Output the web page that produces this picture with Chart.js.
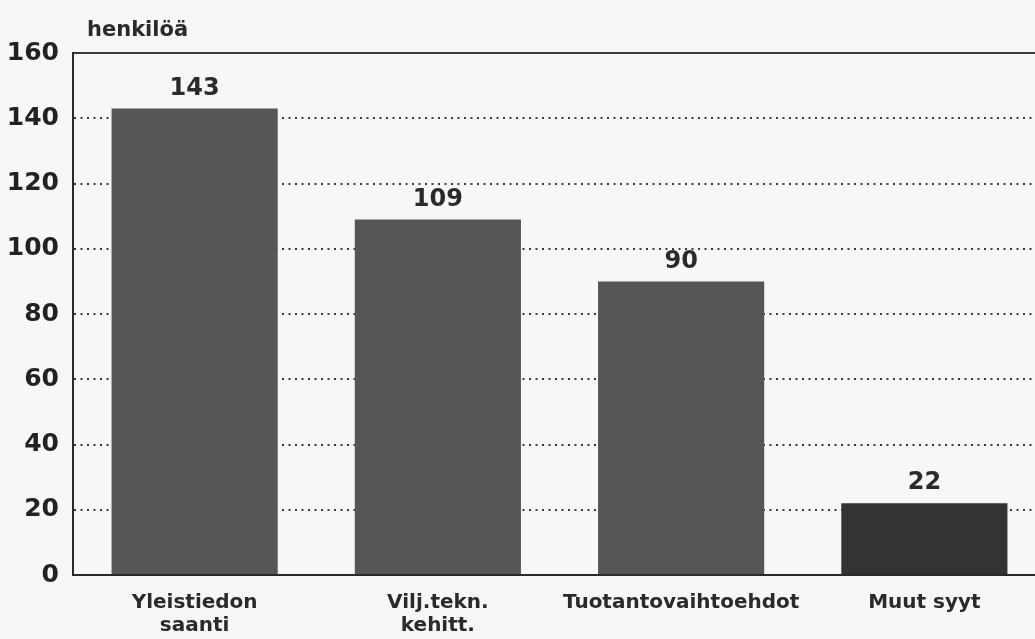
<!DOCTYPE html>
<html>
<head>
<meta charset="utf-8">
<script src="https://cdn.jsdelivr.net/npm/chart.js@4"></script>
<style>
  html, body { margin: 0; padding: 0; background: #f7f7f5; overflow: hidden; }
  #wrap { width: 1050px; height: 639px; }
</style>
</head>
<body>
<div id="wrap"><canvas id="chart" width="1050" height="639"></canvas></div>
<script>
const categories = [['Yleistiedon', 'saanti'], ['Vilj.tekn.', 'kehitt.'], 'Tuotantovaihtoehdot', 'Muut syyt'];
const values = [143, 109, 90, 22];
const barColors = ['#565656', '#565656', '#555555', '#333333'];
const yTicks = [0, 20, 40, 60, 80, 100, 120, 140, 160];
const yTitle = 'henkilöä';

const fontFamily = '"DejaVu Sans", "Liberation Sans", Arial, sans-serif';

// values above the bars + unit label above the axis
const labelPlugin = {
    id: 'labels',
    afterDatasetsDraw(chart) {
        const ctx = chart.ctx;
        const meta = chart.getDatasetMeta(0);
        ctx.save();
        ctx.fillStyle = '#2a2a2a';
        ctx.font = 'bold 24px ' + fontFamily;
        ctx.textAlign = 'center';
        ctx.textBaseline = 'bottom';
        meta.data.forEach((bar, i) => {
            ctx.fillText(values[i], bar.x, bar.y - 8);
        });
        ctx.font = 'bold 21px ' + fontFamily;
        ctx.textAlign = 'left';
        ctx.fillText(yTitle, chart.chartArea.left + 14, chart.chartArea.top - 12);
        ctx.restore();
    }
};

const ctx = document.getElementById('chart').getContext('2d');

new Chart(ctx, {
    type: 'bar',
    data: {
        labels: categories,
        datasets: [{
            data: values,
            backgroundColor: barColors,
            borderWidth: 0,
            barPercentage: 0.683,
            categoryPercentage: 1
        }]
    },
    options: {
        responsive: false,
        animation: false,
        layout: { padding: { top: 53, right: 4, left: 0, bottom: 0 } },
        plugins: {
            legend: { display: false },
            tooltip: { enabled: false }
        },
        scales: {
            x: {
                grid: { display: false },
                border: { color: '#2a2a2a', width: 2 },
                ticks: {
                    color: '#2a2a2a',
                    font: { family: fontFamily, weight: 'bold', size: 20, lineHeight: 1.15 },
                    padding: 8,
                    maxRotation: 0,
                    autoSkip: false
                },
                afterFit(scale) { scale.height = 64; }
            },
            y: {
                min: 0,
                max: 160,
                afterBuildTicks(scale) { scale.ticks = yTicks.map(v => ({ value: v })); },
                grid: {
                    drawTicks: false,
                    color: '#3a3a3a',
                    lineWidth: 2
                },
                border: {
                    color: '#2a2a2a',
                    width: 2,
                    dash: c => (c.tick && (c.tick.value === 160 || c.tick.value === 0)) ? [] : [2, 4.5]
                },
                ticks: {
                    color: '#222222',
                    font: { family: fontFamily, weight: 'bold', size: 25 },
                    padding: 14
                },
                afterFit(scale) { scale.width = 73; }
            }
        }
    },
    plugins: [labelPlugin]
});
</script>
</body>
</html>
